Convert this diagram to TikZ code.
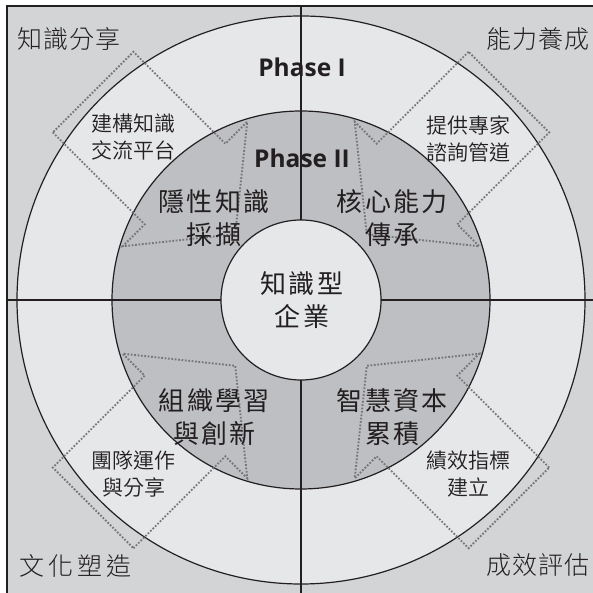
\documentclass[tikz,border=0pt]{standalone}
\usepackage{fontspec}
\newfontfamily\cjk{Noto Sans CJK TC}[UprightFont={* DemiLight}]
\newfontfamily\cjkmid{Noto Sans CJK TC}[LetterSpace=9]
\newfontfamily\cjkcorner{Noto Sans CJK TC}[UprightFont={* Light}, LetterSpace=5]
\newfontfamily\cjkcornerw{Noto Sans CJK TC}[UprightFont={* Light}, LetterSpace=16]
\newfontfamily\phasefont{Open Sans}
\definecolor{bggray}{RGB}{211,212,214}
\definecolor{ringlight}{RGB}{230,231,233}
\definecolor{ringmid}{RGB}{190,191,194}
\definecolor{inkdark}{RGB}{35,31,32}
\definecolor{dotgray}{RGB}{118,118,122}
\tikzset{
  ringline/.style={draw=inkdark, line width=1.2pt},
  axisline/.style={draw=inkdark, line width=1.4pt},
  dotarrow/.style={draw=dotgray, line width=1.9pt, dash pattern=on 1.7pt off 1.7pt},
  midlabel/.style={inner sep=0pt, align=center, text=inkdark, font=\cjkmid\fontsize{26}{33}\selectfont},
  smalllabel/.style={inner sep=0pt, align=center, text=inkdark, font=\cjk\fontsize{21}{27}\selectfont},
  cornerlabel/.style={inner sep=0pt, text=inkdark, font=\cjkcorner\fontsize{25}{30}\selectfont},
  phaselabel/.style={inner sep=0pt, text=inkdark, font=\phasefont\bfseries\fontsize{24.5}{28}\selectfont}
}
\begin{document}
\begin{tikzpicture}[x=1pt,y=1pt]
\useasboundingbox (0,0) rectangle (593,593);
\fill[white] (0,0) rectangle (593,593);
\fill[bggray] (7,-5) rectangle (600,587);
\draw[axisline] (7,-5) -- (7,587) -- (600,587);
\coordinate (O) at (301,293);
\fill[ringlight] (O) circle (284);
\fill[ringmid] (O) circle (189);
\draw[axisline] (7,293) -- (600,293);
\draw[axisline] (301,-5) -- (301,587);
\draw[ringline] (O) circle (284);
\draw[ringline] (O) circle (189);
\filldraw[fill=ringlight, ringline] (O) circle (80);
\foreach \a in {45,135,225,315}{
  \begin{scope}[shift={(O)}, rotate=\a]
    \draw[dotarrow] (294,57) -- (164,57) -- (164,88) -- (93,0) -- (164,-88) -- (164,-57) -- (294,-57) -- cycle;
  \end{scope}
}
\node[phaselabel] (p1) at (302,526) {Phase I};
\node[phaselabel] (p2) at (302,435) {Phase II};
\node[midlabel] (core) at (302,293) {知識型\\企業};
\node[midlabel] (tl) at (214,374.5) {隱性知識\\採擷};
\node[midlabel] (tr) at (392.5,374.5) {核心能力\\傳承};
\node[midlabel] (bl) at (214.5,175.5) {組織學習\\與創新};
\node[midlabel] (br) at (392.5,175.5) {智慧資本\\累積};
\node[smalllabel] (stl) at (133.5,455.5) {建構知識\\交流平台};
\node[smalllabel] (str) at (468,454.5) {提供專家\\諮詢管道};
\node[smalllabel] (sbl) at (133.5,118.5) {團隊運作\\與分享};
\node[smalllabel] (sbr) at (468,118.5) {績效指標\\建立};
\node[cornerlabel] (ctl) at (69,554) {知識分享};
\node[cornerlabel] (ctr) at (538,554) {能力養成};
\node[cornerlabel, font=\cjkcornerw\fontsize{25}{30}\selectfont] (cbl) at (75,27.5) {文化塑造};
\node[cornerlabel] (cbr) at (538,27.5) {成效評估};
\end{tikzpicture}
\end{document}
